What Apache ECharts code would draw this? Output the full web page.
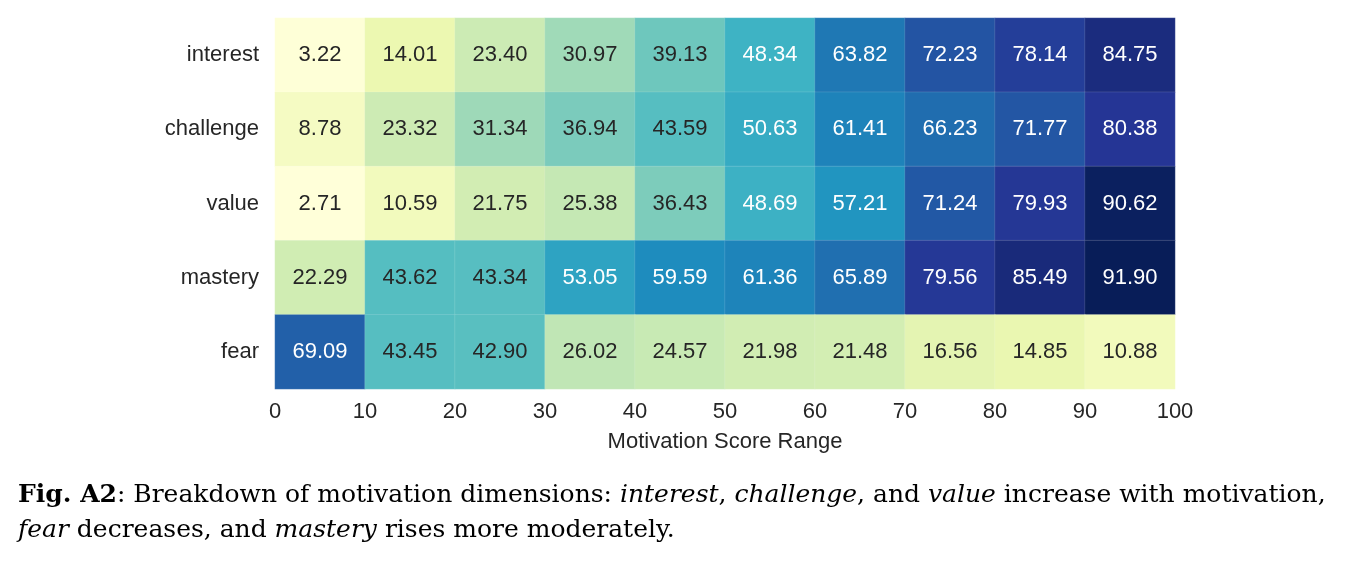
<!DOCTYPE html>
<html>
<head>
<meta charset="utf-8">
<script src="https://cdn.jsdelivr.net/npm/echarts@6/dist/echarts.min.js"></script>
<style>
  html, body { margin: 0; padding: 0; background: #fff; }
  #chart { width: 1358px; height: 562px; }
</style>
</head>
<body>
<div id="chart"></div>
<script>
// motivation score bins (10 wide), ticks at the bin edges
const bins = ['0-10', '10-20', '20-30', '30-40', '40-50', '50-60', '60-70', '70-80', '80-90', '90-100'];
const edgeTicks = [0, 10, 20, 30, 40, 50, 60, 70, 80, 90, 100];
const dims = ['interest', 'challenge', 'value', 'mastery', 'fear'];

const interest  = [3.22, 14.01, 23.40, 30.97, 39.13, 48.34, 63.82, 72.23, 78.14, 84.75];
const challenge = [8.78, 23.32, 31.34, 36.94, 43.59, 50.63, 61.41, 66.23, 71.77, 80.38];
const value     = [2.71, 10.59, 21.75, 25.38, 36.43, 48.69, 57.21, 71.24, 79.93, 90.62];
const mastery   = [22.29, 43.62, 43.34, 53.05, 59.59, 61.36, 65.89, 79.56, 85.49, 91.90];
const fear      = [69.09, 43.45, 42.90, 26.02, 24.57, 21.98, 21.48, 16.56, 14.85, 10.88];

const rows = [interest, challenge, value, mastery, fear];

// YlGnBu
const ylgnbu = ['#ffffd9', '#edf8b1', '#c7e9b4', '#7fcdbb', '#41b6c4', '#1d91c0', '#225ea8', '#253494', '#081d58'];

const allVals = rows.flat();
const vmin = Math.min(...allVals);
const vmax = Math.max(...allVals);

const cells = [];
rows.forEach((row, yi) => {
    row.forEach((v, xi) => {
        cells.push({
            value: [xi, yi, v],
            label: { color: v > 46 ? '#ffffff' : '#262626' }
        });
    });
});

const sans = 'Liberation Sans, Arial, sans-serif';
const serif = 'DejaVu Serif, serif';
const capSize = 25;

const chart = echarts.init(document.getElementById('chart'), null, { renderer: 'canvas' });

chart.setOption({
    animation: false,
    backgroundColor: '#ffffff',
    title: [
        {
            left: 18, top: 483, padding: 0,
            text: '{b|Fig. A2}: Breakdown of motivation dimensions: {i|interest}, {i|challenge}, and {i|value} increase with motivation,',
            textStyle: {
                fontFamily: serif, fontSize: capSize, fontWeight: 'normal', color: '#000',
                rich: {
                    b: { fontFamily: serif, fontSize: capSize, fontWeight: 'bold', color: '#000' },
                    i: { fontFamily: serif, fontSize: capSize, fontStyle: 'italic', color: '#000' }
                }
            }
        },
        {
            left: 18, top: 518, padding: 0,
            text: '{i|fear} decreases, and {i|mastery} rises more moderately.',
            textStyle: {
                fontFamily: serif, fontSize: capSize, fontWeight: 'normal', color: '#000',
                rich: {
                    i: { fontFamily: serif, fontSize: capSize, fontStyle: 'italic', color: '#000' }
                }
            }
        }
    ],
    grid: { left: 275, top: 18, width: 900, height: 371, containLabel: false },
    xAxis: [
        {
            type: 'category',
            data: bins,
            axisLine: { show: false },
            axisTick: { show: false },
            axisLabel: { show: false },
            splitLine: { show: false }
        },
        {
            type: 'value',
            position: 'bottom',
            offset: 0,
            min: edgeTicks[0],
            max: edgeTicks[edgeTicks.length - 1],
            interval: 10,
            axisLine: { show: false },
            axisTick: { show: false },
            splitLine: { show: false },
            axisLabel: { fontFamily: sans, fontSize: 22, color: '#262626', margin: 12 },
            name: 'Motivation Score Range',
            nameLocation: 'middle',
            nameGap: 42,
            nameTextStyle: { fontFamily: sans, fontSize: 22, color: '#262626' }
        }
    ],
    yAxis: {
        type: 'category',
        data: dims,
        inverse: true,
        axisLine: { show: false },
        axisTick: { show: false },
        splitLine: { show: false },
        axisLabel: { fontFamily: sans, fontSize: 22, color: '#262626', margin: 16 }
    },
    visualMap: {
        show: false,
        type: 'continuous',
        min: vmin,
        max: vmax,
        dimension: 2,
        inRange: { color: ylgnbu }
    },
    series: [{
        type: 'heatmap',
        xAxisIndex: 0,
        yAxisIndex: 0,
        data: cells,
        itemStyle: { borderColor: 'rgba(255,255,255,0.25)', borderWidth: 0.5 },
        label: {
            show: true,
            fontFamily: sans,
            fontSize: 22,
            formatter: p => p.value[2].toFixed(2)
        },
        emphasis: { disabled: true }
    }]
});
</script>
</body>
</html>
